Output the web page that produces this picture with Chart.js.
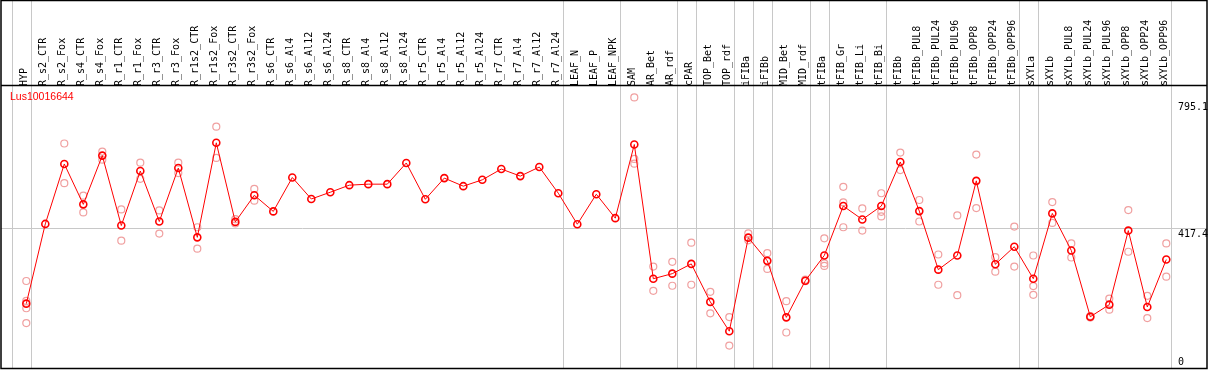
<!DOCTYPE html>
<html><head><meta charset="utf-8">
<script src="https://cdn.jsdelivr.net/npm/chart.js@4"></script>
<style>html,body{margin:0;padding:0;background:#fff;}#wrap{width:1209px;height:370px;position:relative;}</style>
</head><body><div id="wrap"><canvas id="c" width="1209" height="370"></canvas></div>
<script>
const categories = ["HYP","R_s2_CTR","R_s2_Fox","R_s4_CTR","R_s4_Fox","R_r1_CTR","R_r1_Fox","R_r3_CTR","R_r3_Fox","R_r1s2_CTR","R_r1s2_Fox","R_r3s2_CTR","R_r3s2_Fox","R_s6_CTR","R_s6_Al4","R_s6_Al12","R_s6_Al24","R_s8_CTR","R_s8_Al4","R_s8_Al12","R_s8_Al24","R_r5_CTR","R_r5_Al4","R_r5_Al12","R_r5_Al24","R_r7_CTR","R_r7_Al4","R_r7_Al12","R_r7_Al24","LEAF_N","LEAF_P","LEAF_NPK","SAM","AR_Bet","AR_rdf","cPAR","TOP_Bet","TOP_rdf","iFIBa","iFIBb","MID_Bet","MID_rdf","tFIBa","tFIB_Gr","tFIB_Li","tFIB_Bi","tFIBb","tFIBb_PUL8","tFIBb_PUL24","tFIBb_PUL96","tFIBb_OPP8","tFIBb_OPP24","tFIBb_OPP96","sXYLa","sXYLb","sXYLb_PUL8","sXYLb_PUL24","sXYLb_PUL96","sXYLb_OPP8","sXYLb_OPP24","sXYLb_OPP96"];
const meanValues = [192.3,430.5,609.6,489.0,634.6,425.7,588.5,437.7,597.5,390.4,672.9,436.5,516.1,467.9,569.2,505.0,525.2,546.3,549.3,549.3,612.6,504.1,567.4,543.3,562.3,594.5,573.4,600.5,522.2,429.6,519.2,447.7,667.8,266.8,281.9,311.1,197.5,110.0,389.5,320.2,151.3,260.8,336.2,483.9,443.8,483.9,615.6,468.8,293.9,336.2,559.2,309.9,362.4,266.8,461.9,351.2,153.2,189.3,410.6,182.4,324.1];
// replicate samples: [category index, value]
const replicateIndex = [0,0,0,0,2,2,3,3,4,4,5,5,6,6,7,7,8,8,9,9,10,10,11,11,12,12,32,32,32,33,33,34,34,35,35,36,36,37,37,38,38,39,39,40,40,41,41,42,42,42,43,43,43,44,44,45,45,45,46,46,47,47,48,48,49,49,50,50,51,51,52,52,53,53,53,54,54,55,55,56,56,57,57,58,58,59,59,60,60];
const replicateValues = [259.9,200.5,178.5,134.2,670.8,552.3,514.9,464.9,646.7,622.6,473.9,380.5,613.5,565.3,470.9,401.6,613.5,582.5,420.6,356.4,721.1,627.7,444.7,431.7,535.1,499.9,808.6,624.7,610.5,303.0,230.6,317.2,245.7,374.4,248.7,227.6,163.4,152.2,66.9,402.5,381.4,343.1,296.0,199.6,106.1,263.8,259.3,387.4,312.9,305.1,541.2,495.0,420.6,476.9,410.6,522.2,466.7,452.8,643.7,591.5,502.0,437.7,339.2,248.7,455.8,217.7,637.6,477.8,331.0,287.9,422.7,303.0,336.2,244.8,218.6,495.9,433.5,372.3,330.1,155.3,150.7,207.4,174.3,471.8,347.3,215.6,149.2,372.3,272.8];
const yTickValues = [0, 417.4, 795.1];
const yTickLabels = ["0", "417.4", "795.1"];
const geneLabel = "Lus10016644";
// separators drawn after these category indices
const separatorAfter = [-1,0,28,31,34,35,37,38,39,41,42,45,52,53,60];

const meanData = meanValues.map((v,i)=>({x:i,y:v}));
const repData = replicateValues.map((v,i)=>({x:replicateIndex[i],y:v}));

const framePlugin = {
  id:'frame',
  beforeDatasetsDraw(chart){
    const ctx = chart.ctx, xs = chart.scales.x, ca = chart.chartArea;
    ctx.save();
    ctx.strokeStyle = '#c8c8c8'; ctx.lineWidth = 1;
    separatorAfter.forEach(i=>{
      const px = Math.round(xs.getPixelForValue(i + 0.24)) + 0.5;
      ctx.beginPath(); ctx.moveTo(px, 0); ctx.lineTo(px, ca.bottom); ctx.stroke();
    });
    ctx.restore();
  },
  afterDraw(chart){
    const ctx = chart.ctx, ys = chart.scales.y, ca = chart.chartArea;
    ctx.save();
    ctx.strokeStyle = '#000'; ctx.lineWidth = 1.5;
    ctx.strokeRect(1, 0.5, 1206, ca.bottom);
    ctx.beginPath(); ctx.moveTo(1, 85.5); ctx.lineTo(1207, 85.5); ctx.stroke();
    ctx.fillStyle = '#000';
    ctx.font = '10px "DejaVu Sans Mono"';
    ctx.textAlign = 'left'; ctx.textBaseline = 'top';
    yTickValues.forEach((v,k)=>{
      let py = ys.getPixelForValue(v) + 1;
      if (py > ca.bottom - 11) py = ca.bottom - 11;
      ctx.fillText(yTickLabels[k], 1178, py);
    });
    ctx.fillStyle = '#ff0000';
    ctx.font = '10.5px "Liberation Sans"';
    ctx.fillText(geneLabel, 10, 92);
    ctx.restore();
  }
};

new Chart(document.getElementById('c'), {
  type:'scatter',
  data:{datasets:[
    {label:'replicates', data:repData, showLine:false, pointStyle:'circle', pointRadius:3.5, pointBorderColor:'#f0a0a0', pointBackgroundColor:'rgba(0,0,0,0)', pointBorderWidth:1.2, order:2},
    {label:'mean', data:meanData, showLine:true, borderColor:'#ff0000', borderWidth:1, pointRadius:3.5, pointBorderColor:'#ff0000', pointBackgroundColor:'rgba(0,0,0,0)', pointBorderWidth:1.6, tension:0, order:1}
  ]},
  options:{
    responsive:false, animation:false,
    layout:{autoPadding:false, padding:{left:1,right:2,top:0,bottom:2}},
    plugins:{legend:{display:false}, tooltip:{enabled:false}},
    scales:{
      x:{type:'linear', position:'top', min:-1.3316, max:62.142,
        afterBuildTicks(s){ s.ticks = categories.map((c,i)=>({value:i})); },
        afterFit(s){ s.height = 85; s.paddingLeft = 0; s.paddingRight = 0; },
        grid:{display:false, drawTicks:false},
        border:{display:false},
        ticks:{autoSkip:false, minRotation:90, maxRotation:90, padding:-1, labelOffset:10,
          color:'#000', font:{family:'DejaVu Sans Mono', size:10},
          callback:(v)=>categories[v] ?? ''}
      },
      y:{type:'linear', position:'right', min:0, max:845.6,
        afterBuildTicks(s){ s.ticks = yTickValues.map(v=>({value:v})); },
        afterFit(s){ s.width = 0; s.paddingTop = 0; s.paddingBottom = 0; },
        grid:{color:(c)=> (c.tick && c.tick.value===417.4) ? '#c8c8c8' : 'rgba(0,0,0,0)', drawTicks:false},
        border:{display:false},
        ticks:{display:false}
      }
    }
  },
  plugins:[framePlugin]
});
</script></body></html>
